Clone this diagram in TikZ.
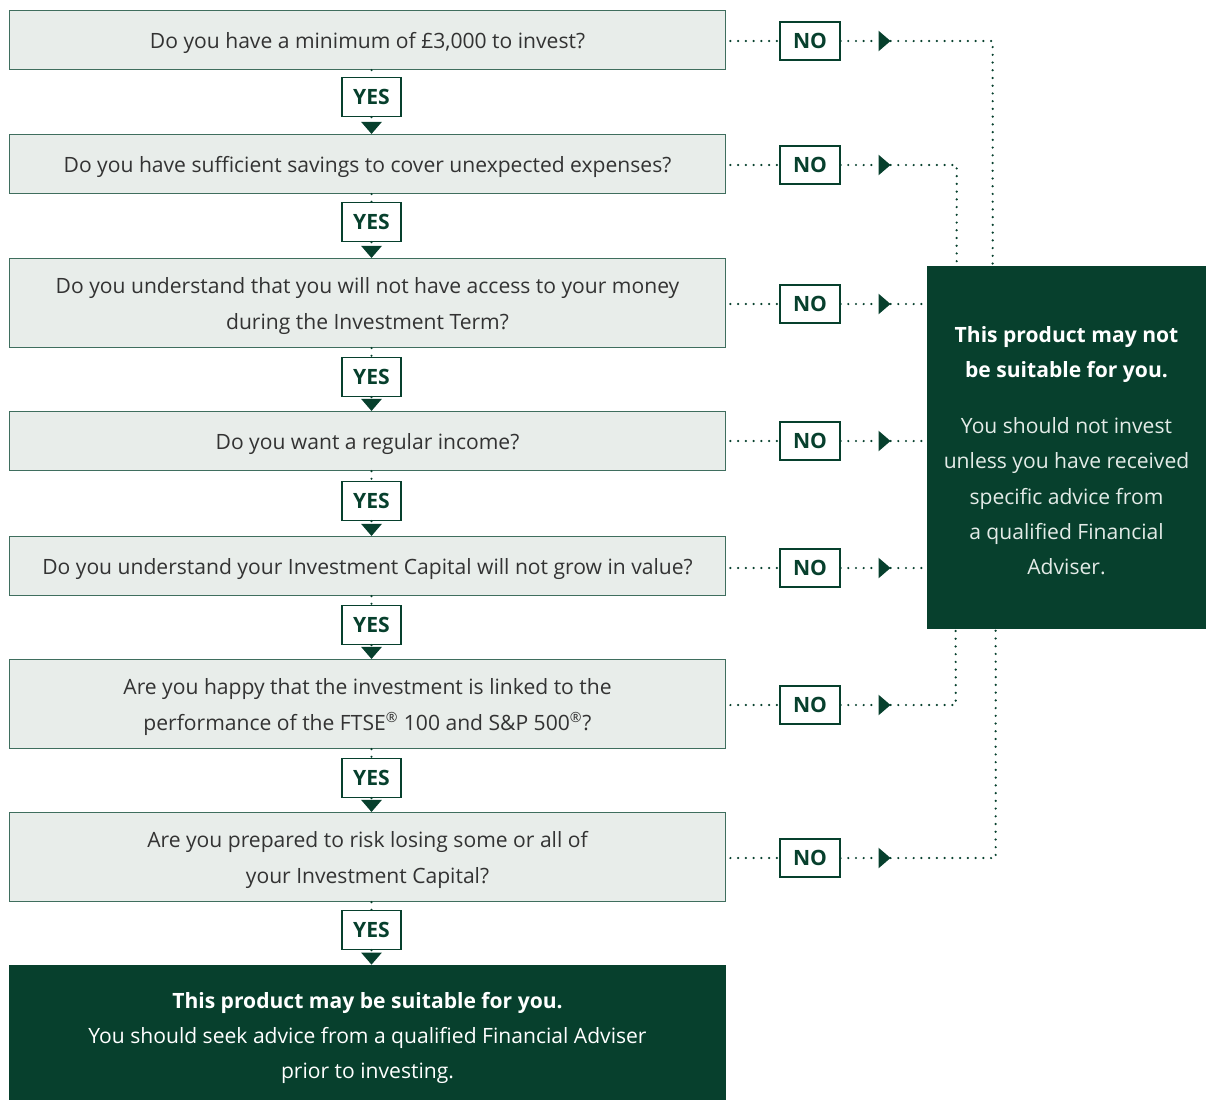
\documentclass[tikz,border=0pt]{standalone}
\usepackage{fontspec}
\setmainfont{Open Sans}
\usetikzlibrary{arrows.meta,calc}
\definecolor{suitGreen}{HTML}{07402D}
\definecolor{suitPanel}{HTML}{E8EDEA}
\definecolor{suitEdge}{HTML}{3F6E5E}
\definecolor{suitText}{HTML}{333333}
\definecolor{suitSoft}{HTML}{E3EBE7}
\newcommand{\topstrut}{\rule{0pt}{12.6pt}}

\tikzset{
  lift/.style={execute at begin node={\rule{0pt}{13pt}}},
  question/.style={draw=suitEdge, line width=0.6pt, fill=suitPanel, text=suitText,
    minimum width=14.34cm, minimum height=1.18cm, align=center, inner sep=0pt,
    font=\fontsize{12}{20}\selectfont},
  shortq/.style={question, lift},
  tallq/.style={question, minimum height=1.78cm},
  yesbox/.style={draw=suitGreen, line width=0.6pt, fill=white, text=suitGreen,
    minimum width=1.18cm, minimum height=0.78cm, inner sep=0pt,
    font=\fontsize{12}{14}\selectfont\bfseries},
  nobox/.style={yesbox, minimum width=1.2cm, minimum height=0.76cm},
  verdict/.style={fill=suitGreen, text=white, align=center, inner sep=0pt,
    font=\fontsize{12}{20}\selectfont},
  dotline/.style={draw=suitGreen, line width=1.4pt, dash pattern=on 0pt off 4.4pt, line cap=round},
  tip/.style={-{Triangle[width=0.4cm,length=0.24cm]}}
}

\begin{document}
\begin{tikzpicture}[x=0.02cm, y=-0.02cm]
  \useasboundingbox (0,0) rectangle (1206,1099);

  % questions
  \node[shortq] (q1) at (367.5,40) {Do you have a minimum of £3,000 to invest?};
  \node[shortq] (q2) at (367.5,164) {Do you have sufficient savings to cover unexpected expenses?};
  \node[tallq] (q3) at (367.5,303) {\topstrut Do you understand that you will not have access to your money\\during the Investment Term?};
  \node[shortq] (q4) at (367.5,441) {Do you want a regular income?};
  \node[shortq] (q5) at (367.5,566) {Do you understand your Investment Capital will not grow in value?};
  \node[tallq] (q6) at (367.5,704) {\topstrut Are you happy that the investment is linked to the\\performance of the FTSE\textsuperscript{®} 100 and S\&P 500\textsuperscript{®}?};
  \node[tallq] (q7) at (367.5,857) {\topstrut Are you prepared to risk losing some or all of\\your Investment Capital?};

  % outcomes
  \node[verdict, minimum width=14.34cm, minimum height=2.8cm] (pass) at (367.5,1035)
    {\topstrut\textbf{This product may be suitable for you.}\\
     You should seek advice from a qualified Financial Adviser\\prior to investing.};
  \node[verdict, minimum width=5.58cm, minimum height=7.26cm] (fail) at (1066.5,447.5)
    {\topstrut\textbf{This product may not}\\\textbf{be suitable for you.}\\[12pt]
     \color{suitSoft}You should not invest\\\color{suitSoft}unless you have received\\
     \color{suitSoft}specific advice from\\\color{suitSoft}a qualified Financial\\\color{suitSoft}Adviser.};

  % yes labels
  \node[yesbox] (yes1) at (371.5,97) {YES};
  \node[yesbox] (yes2) at (371.5,222) {YES};
  \node[yesbox] (yes3) at (371.5,377) {YES};
  \node[yesbox] (yes4) at (371.5,501) {YES};
  \node[yesbox] (yes5) at (371.5,625) {YES};
  \node[yesbox] (yes6) at (371.5,778) {YES};
  \node[yesbox] (yes7) at (371.5,930) {YES};

  % no labels
  \node[nobox] (no1) at (810,41) {NO};
  \node[nobox] (no2) at (810,165) {NO};
  \node[nobox] (no3) at (810,304) {NO};
  \node[nobox] (no4) at (810,441) {NO};
  \node[nobox] (no5) at (810,568) {NO};
  \node[nobox] (no6) at (810,705) {NO};
  \node[nobox] (no7) at (810,858) {NO};

  % yes path down the column
  \foreach \a/\b in {1/2,2/3,3/4,4/5,5/6,6/7} {
    \draw[dotline] (q\a.south -| yes\a.north) -- (yes\a.north);
    \draw[dotline, tip] (yes\a.south) -- (yes\a.south |- q\b.north);
  }
  \draw[dotline] (q7.south -| yes7.north) -- (yes7.north);
  \draw[dotline, tip] (yes7.south) -- (yes7.south |- pass.north);

  % no paths to the right
  \foreach \i in {1,...,7} {
    \draw[dotline] (q\i.east |- no\i.west) ++(4,0) -- (no\i.west);
    \coordinate (t\i) at ($(no\i.east)+(50,0)$);
    \draw[dotline, tip] (no\i.east) -- (t\i);
  }
  \draw[dotline] (t1) -| ($(fail.north west)+(66,0)$);
  \draw[dotline] (t2) -| ($(fail.north west)+(30,0)$);
  \draw[dotline] (t3) -- (t3 -| fail.west);
  \draw[dotline] (t4) -- (t4 -| fail.west);
  \draw[dotline] (t5) -- (t5 -| fail.west);
  \draw[dotline] (t6) -| ($(fail.south west)+(29,0)$);
  \draw[dotline] (t7) -| ($(fail.south west)+(69,0)$);
\end{tikzpicture}
\end{document}
